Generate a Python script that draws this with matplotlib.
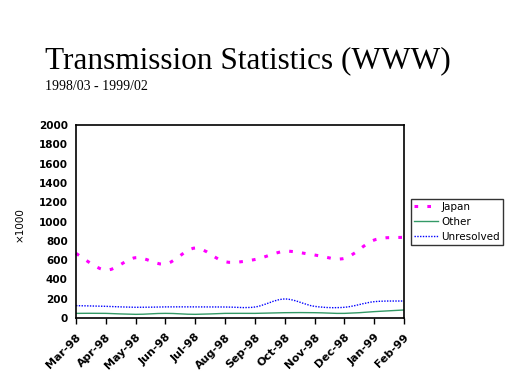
import numpy as np
import matplotlib
matplotlib.use("Agg")
import matplotlib.pyplot as plt
from matplotlib.path import Path
from matplotlib.patches import PathPatch
from matplotlib.lines import Line2D

months = ["Mar-98", "Apr-98", "May-98", "Jun-98", "Jul-98", "Aug-98",
          "Sep-98", "Oct-98", "Nov-98", "Dec-98", "Jan-99", "Feb-99"]
japan = [670, 497, 625, 560, 725, 583, 606, 691, 653, 618, 808, 836]
other = [48, 48, 38, 48, 38, 48, 48, 55, 55, 48, 66, 83]
unresolved = [128, 121, 111, 115, 115, 114, 114, 197, 121, 111, 169, 176]


def smooth_path(x, y):
    # Catmull-Rom style bezier through the points (like Excel "smoothed line")
    x = np.asarray(x, float)
    y = np.asarray(y, float)
    verts = [(x[0], y[0])]
    codes = [Path.MOVETO]
    n = len(x)
    for i in range(n - 1):
        p0 = (x[max(i - 1, 0)], y[max(i - 1, 0)])
        p1 = (x[i], y[i])
        p2 = (x[i + 1], y[i + 1])
        p3 = (x[min(i + 2, n - 1)], y[min(i + 2, n - 1)])
        c1 = (p1[0] + (p2[0] - p0[0]) / 6, p1[1] + (p2[1] - p0[1]) / 6)
        c2 = (p2[0] - (p3[0] - p1[0]) / 6, p2[1] - (p3[1] - p1[1]) / 6)
        verts += [c1, c2, p2]
        codes += [Path.CURVE4] * 3
    return Path(verts, codes)


fig = plt.figure(figsize=(5.12, 3.84), dpi=100)
fig.patch.set_facecolor("white")

fig.text(45 / 512, 1 - 68 / 384, "Transmission Statistics (WWW)",
         family="Liberation Serif", fontsize=22.5, ha="left", va="baseline")
fig.text(45 / 512, 1 - 90 / 384, "1998/03 - 1999/02",
         family="Liberation Serif", fontsize=10, ha="left", va="baseline")

ax = fig.add_axes([76 / 512, 1 - 318 / 384, 328 / 512, 193 / 384])
xs = np.arange(len(months))

styles = [
    (japan, "Japan", "#FF00FF", 2.2, (0, (1.2, 3))),
    (other, "Other", "#339966", 1.0, "solid"),
    (unresolved, "Unresolved", "#0000FF", 1.0, (0, (1, 1))),
]
handles = []
for vals, name, col, lw, ls in styles:
    patch = PathPatch(smooth_path(xs, vals), facecolor="none", edgecolor=col,
                      linewidth=lw, linestyle=ls, clip_on=False)
    ax.add_patch(patch)
    handles.append(Line2D([], [], color=col, linewidth=lw, linestyle=ls, label=name))

ax.set_xlim(0, len(months) - 1)
ax.set_ylim(0, 2000)
ax.set_yticks(range(0, 2001, 200))
ax.set_xticks(xs)
ax.set_xticklabels(months, rotation=45, ha="right", va="top",
                   rotation_mode="anchor", fontsize=8, fontweight="bold",
                   family="DejaVu Sans")
for lab in ax.get_yticklabels():
    lab.set_fontsize(7.5)
    lab.set_fontweight("bold")
ax.tick_params(axis="y", length=0, pad=6)
ax.tick_params(axis="x", length=4, width=1, direction="out", pad=6)
for sp in ax.spines.values():
    sp.set_linewidth(1.2)

fig.text(20 / 512, 1 - 225 / 384, "×1000", rotation=90, fontsize=7.5,
         ha="center", va="center")

leg = fig.legend(handles=handles, loc="upper left",
                 bbox_to_anchor=(411 / 512, 1 - 199 / 384),
                 frameon=True, fancybox=False, edgecolor="black",
                 fontsize=7.5, handlelength=2.3, handletextpad=0.3,
                 borderpad=0.3, labelspacing=0.45, borderaxespad=0)
leg.get_frame().set_linewidth(1.0)

fig.savefig("out.png", dpi=100)
